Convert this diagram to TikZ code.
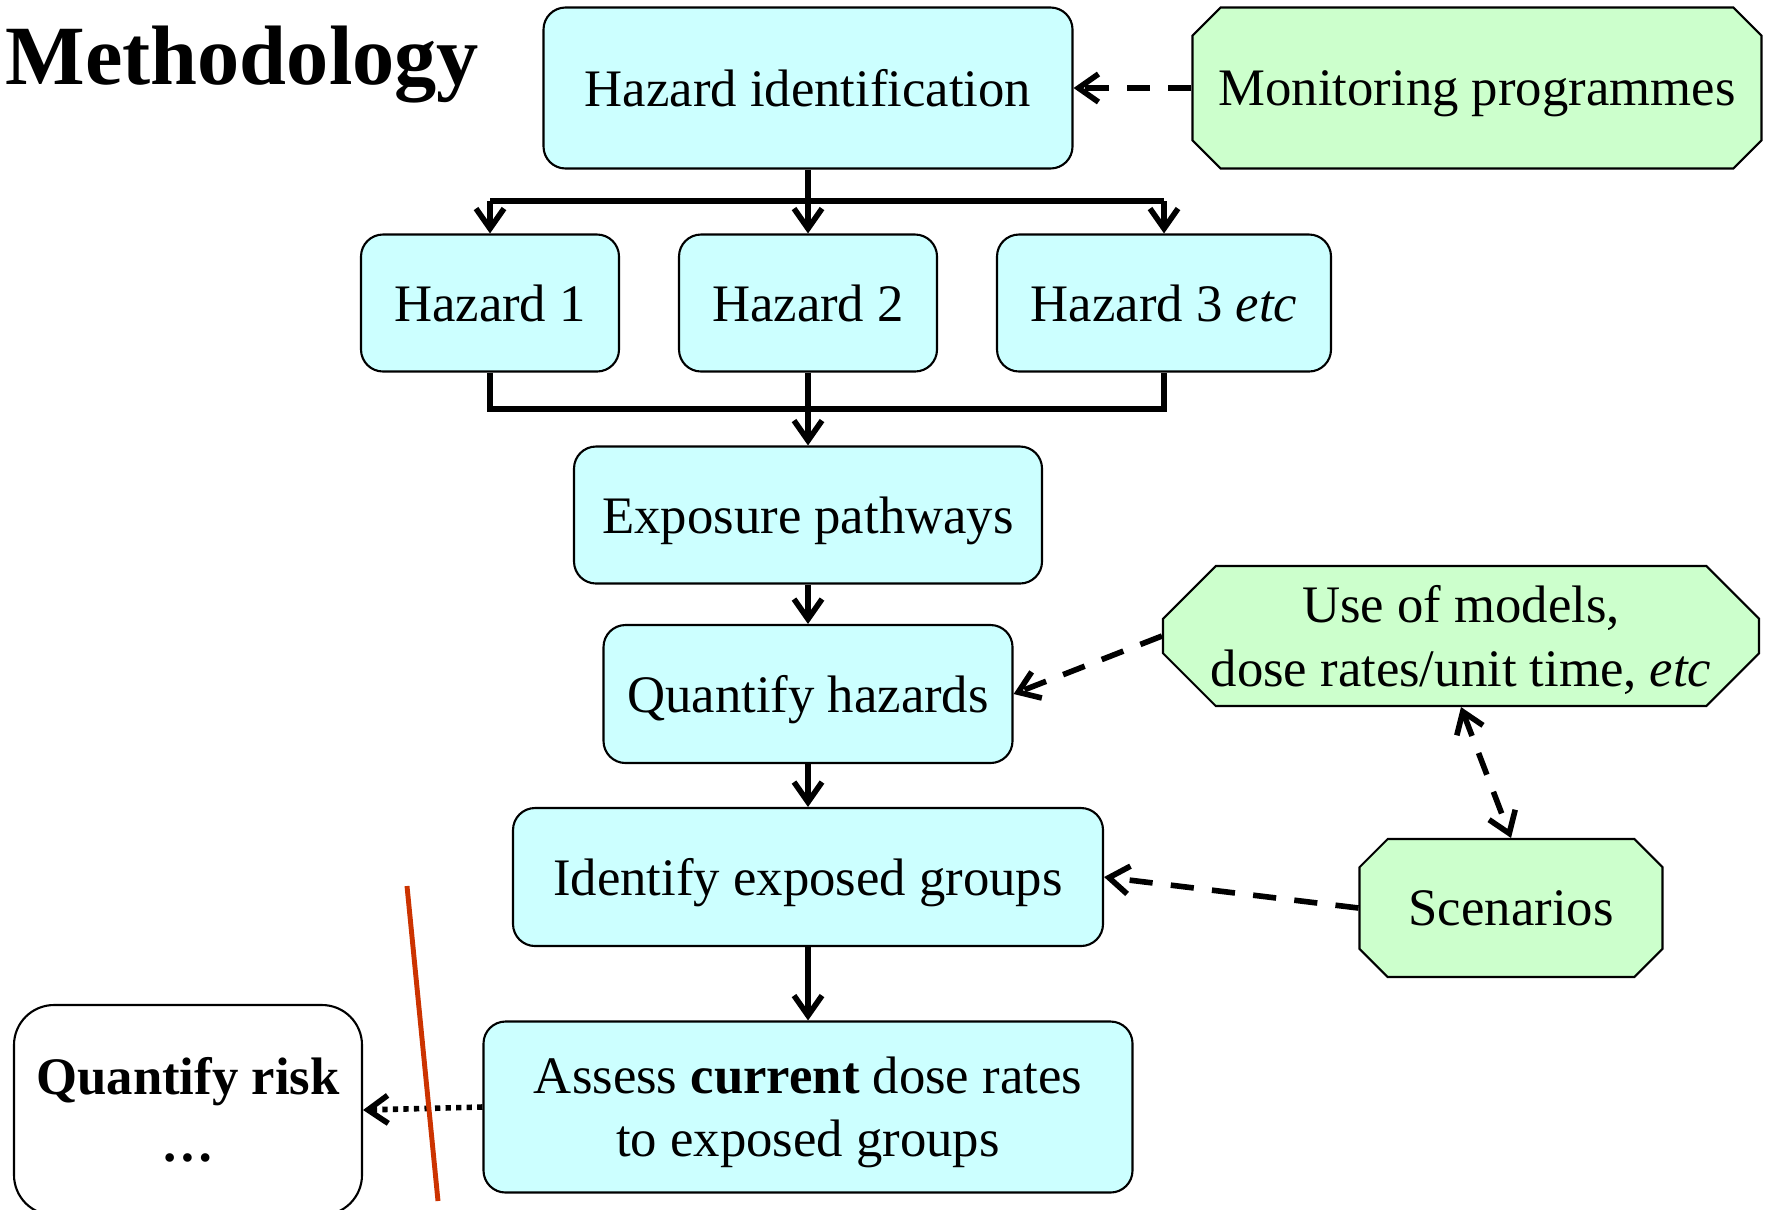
\documentclass[tikz,border=0pt]{standalone}
\usepackage{fontspec}
\setmainfont{Liberation Serif}
\usetikzlibrary{shapes.misc,arrows.meta}
\definecolor{boxcyan}{HTML}{CCFFFF}
\definecolor{boxgreen}{HTML}{CCFFCC}
\definecolor{cutred}{HTML}{CC3300}
\tikzset{
  box/.style={draw, fill=boxcyan, rounded corners=0.22cm, line width=0.6pt, inner sep=0pt,
    text depth=0pt, align=center, font=\fontsize{15}{18}\selectfont},
  octbox/.style={draw, fill=boxgreen, chamfered rectangle, chamfered rectangle xsep=0.42cm,
    line width=0.6pt, inner sep=0pt, text depth=0pt, align=center, font=\fontsize{15}{18}\selectfont},
  flow/.style={line width=1.6pt, -{Straight Barb[length=2mm,width=2.8mm]}},
  dashflow/.style={flow, dash pattern=on 6.6pt off 5.2pt},
}
\begin{document}
\begin{tikzpicture}
    \useasboundingbox (0,0) rectangle (17.65,-12.09);
    % Title
    \node[anchor=base west, inner sep=0pt, font=\fontsize{24}{28}\selectfont\bfseries] (title) at (0.05,-0.84) {Methodology};

    % Main column
    \node[box, minimum width=5.29cm, minimum height=1.61cm] (hid) at (8.08,-0.88) {Hazard identification};
    \node[box, minimum width=2.58cm, minimum height=1.37cm] (hz1) at (4.90,-3.03) {Hazard 1};
    \node[box, minimum width=2.58cm, minimum height=1.37cm] (hz2) at (8.08,-3.03) {Hazard 2};
    \node[box, minimum width=3.34cm, minimum height=1.37cm] (hz3) at (11.64,-3.03) {Hazard 3 \textit{etc}};
    \node[box, minimum width=4.68cm, minimum height=1.37cm] (exp) at (8.08,-5.15) {Exposure pathways};
    \node[box, minimum width=4.09cm, minimum height=1.38cm] (qhz) at (8.08,-6.94) {Quantify hazards};
    \node[box, minimum width=5.90cm, minimum height=1.38cm] (ieg) at (8.08,-8.77) {Identify exposed groups};
    \node[box, minimum width=6.49cm, minimum height=1.71cm] (ass) at (8.08,-11.07) {Assess \textbf{current} dose rates\\to exposed groups};

    % Side inputs
    \node[octbox, minimum width=5.69cm, minimum height=1.61cm] (mon) at (14.77,-0.88) {Monitoring programmes};
    \node[octbox, minimum width=5.96cm, minimum height=1.40cm] (uom) at (14.61,-6.36) {Use of models,\\dose rates/unit time, \textit{etc}};
    \node[octbox, minimum width=3.03cm, minimum height=1.38cm] (scen) at (15.11,-9.08) {Scenarios};

    % Next step
    \node[draw, fill=white, rounded corners=0.4cm, line width=0.6pt, minimum width=3.48cm, minimum height=2.10cm,
      align=center, font=\fontsize{15}{18}\selectfont] (qrisk) at (1.88,-11.10) {\textbf{Quantify risk}\\[1pt]\textbf{\dots}};

    % Branching to hazards
    \coordinate (bus1) at (0,-2.01); \coordinate (bus2) at (0,-4.09);
    \draw[flow] (hid.south) -- (hz2.north);
    \draw[line width=1.6pt] (hz1.north |- bus1) -- (hz3.north |- bus1);
    \foreach \h in {hz1,hz3} \draw[flow] (\h.north |- bus1) -- (\h.north);
    \draw[line width=1.6pt] (hz1.south) -- (hz1.south |- bus2) -- (hz3.south |- bus2) -- (hz3.south);
    \draw[flow] (hz2.south) -- (exp.north);
    \foreach \a/\b in {exp/qhz, qhz/ieg, ieg/ass} \draw[flow] (\a.south) -- (\b.north);

    % Dashed inputs
    \draw[dashflow] (mon.west) -- (hid.east);
    \draw[dashflow] (uom.west) -- (qhz.east);
    \draw[dashflow] (scen.west) -- (ieg.east);
    \draw[dashflow, {Straight Barb[length=2mm,width=2.8mm]}-{Straight Barb[length=2mm,width=2.8mm]}] (uom.south) -- (scen.north);

    % Dotted link and cut line
    \draw[flow, dash pattern=on 1.5pt off 1.5pt] (ass.west) -- (qrisk.east);
    \draw[cutred, line width=1.4pt] (4.07,-8.86) -- (4.38,-12.01);
\end{tikzpicture}
\end{document}
